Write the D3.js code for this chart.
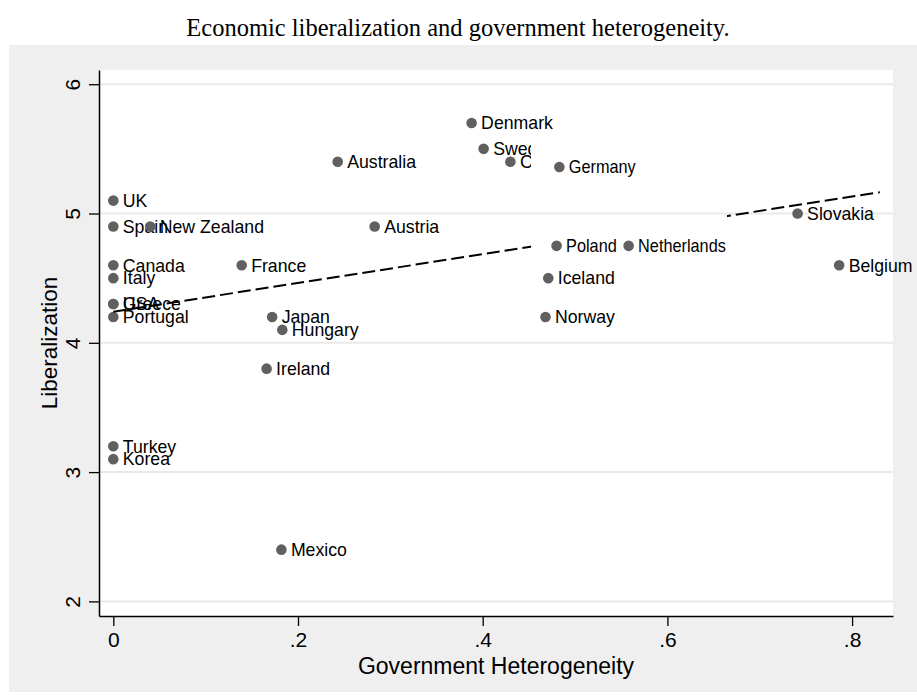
<!DOCTYPE html>
<html>
<head>
<meta charset="utf-8">
<script src="https://cdn.jsdelivr.net/npm/d3@7"></script>
<style>
  html, body { margin: 0; padding: 0; background: #ffffff; }
  svg { display: block; }
</style>
</head>
<body>
<svg id="chart" width="917" height="700"></svg>
<script>
// ---- data ----
const countries = ["Denmark","Sweden","Czech Republic","Germany","Australia","UK","Spain","New Zealand","Austria","Slovakia","Poland","Netherlands","Canada","France","Belgium","Italy","Iceland","USA","Greece","Portugal","Japan","Hungary","Norway","Ireland","Turkey","Korea","Mexico"];
const heterogeneity = [0.388,0.401,0.430,0.483,0.243,0,0,0.040,0.283,0.741,0.480,0.558,0,0.139,0.786,0,0.471,0,0,0,0.172,0.183,0.468,0.166,0,0,0.182];
const liberalization = [5.7,5.5,5.4,5.36,5.4,5.1,4.9,4.9,4.9,5.0,4.75,4.75,4.6,4.6,4.6,4.5,4.5,4.3,4.3,4.2,4.2,4.1,4.2,3.8,3.2,3.1,2.4];
const patchedLabels = ["Germany","Poland","Netherlands"];
const xTicks = [0, 0.2, 0.4, 0.6, 0.8];
const xTickLabels = ["0", ".2", ".4", ".6", ".8"];
const yTicks = [2, 3, 4, 5, 6];
const yTickLabels = ["2", "3", "4", "5", "6"];
// fitted line: liberalization = intercept + slope * heterogeneity
const fitX = [0, 0.83];
const fitY = [4.24, 5.165];
const titleText = "Economic liberalization and government heterogeneity.";
const xTitle = "Government Heterogeneity";
const yTitle = "Liberalization";

const points = countries.map((c, i) => ({ name: c, x: heterogeneity[i], y: liberalization[i] }));
const fitPts = fitX.map((v, i) => ({ x: v, y: fitY[i] }));

// ---- layout ----
const svg = d3.select("#chart");
const plot = { left: 99, right: 893, top: 70, bottom: 616 };
const x = d3.scaleLinear().domain([-0.0155, 0.8443]).range([plot.left, plot.right]);
const y = d3.scaleLinear().domain([1.887, 6.11]).range([plot.bottom, plot.top]);

// title
svg.append("text").attr("x", 458).attr("y", 36).attr("text-anchor", "middle")
  .style("font-family", "'Liberation Serif','Times New Roman',serif").style("font-size", "24.5px")
  .attr("fill", "#000").text(titleText);

// graph region
svg.append("rect").attr("x", 9).attr("y", 45).attr("width", 908).attr("height", 647).attr("fill", "#efefef");
svg.append("rect").attr("x", plot.left).attr("y", plot.top).attr("width", plot.right - plot.left)
  .attr("height", plot.bottom - plot.top).attr("fill", "#ffffff");

// gridlines
const grid = svg.append("g");
grid.selectAll("line").data(yTicks).join("line")
  .attr("x1", plot.left).attr("x2", plot.right)
  .attr("y1", d => y(d)).attr("y2", d => y(d))
  .attr("stroke", "#e9e9e9").attr("stroke-width", 2);

const labelFont = "'Liberation Sans',Arial,sans-serif";

function drawPoint(g, d, narrow) {
  g.append("circle").attr("cx", x(d.x)).attr("cy", y(d.y)).attr("r", 5.3).attr("fill", "#606060");
  g.append("text")
    .attr("transform", `translate(${x(d.x) + 9.5},${y(d.y) + 6.3})` + (narrow ? " scale(0.92,1.04)" : ""))
    .style("font-family", labelFont).style("font-size", "17.7px").attr("fill", "#000").text(d.name);
}

// scatter
const sc = svg.append("g");
points.filter(d => !patchedLabels.includes(d.name)).forEach(d => drawPoint(sc, d, false));

// fit line
svg.append("path").datum(fitPts)
  .attr("d", d3.line().x(d => x(d.x)).y(d => y(d.y)))
  .attr("fill", "none").attr("stroke", "#000").attr("stroke-width", 2)
  .attr("stroke-dasharray", "13,5");

// axes
const xAxis = d3.axisBottom(x).tickValues(xTicks).tickFormat((d, i) => xTickLabels[i]).tickSize(10).tickSizeOuter(0);
const gx = svg.append("g").attr("transform", `translate(0,${plot.bottom})`).call(xAxis);
gx.select(".domain").attr("stroke", "#000").attr("stroke-width", 1.5);
gx.selectAll(".tick line").attr("stroke", "#000").attr("stroke-width", 1.3);
gx.selectAll(".tick text").attr("y", 16).attr("dy", "0.71em")
  .style("font-family", labelFont).style("font-size", "21px").attr("fill", "#000");

const yAxis = d3.axisLeft(y).tickValues(yTicks).tickFormat((d, i) => yTickLabels[i]).tickSize(10).tickSizeOuter(0);
const gy = svg.append("g").attr("transform", `translate(${plot.left},0)`).call(yAxis);
gy.select(".domain").attr("stroke", "#000").attr("stroke-width", 1.5);
gy.selectAll(".tick line").attr("stroke", "#000").attr("stroke-width", 1.3);
gy.selectAll(".tick text")
  .attr("x", null).attr("dy", null)
  .attr("text-anchor", "middle")
  .attr("transform", "translate(-19,0) rotate(-90)")
  .style("font-family", labelFont).style("font-size", "21px").attr("fill", "#000");

// axis titles
svg.append("text").attr("x", (plot.left + plot.right) / 2).attr("y", 674).attr("text-anchor", "middle")
  .style("font-family", labelFont).style("font-size", "23px").attr("fill", "#000").text(xTitle);
svg.append("text").attr("transform", `translate(57,${(plot.top + plot.bottom) / 2}) rotate(-90)`)
  .attr("text-anchor", "middle")
  .style("font-family", labelFont).style("font-size", "22.5px").attr("fill", "#000").text(yTitle);

// pasted-over region (as in the reference image)
svg.append("rect").attr("x", 531).attr("y", 134).attr("width", 196).attr("height", 128).attr("fill", "#ffffff");
svg.append("line").attr("x1", 531).attr("x2", 727).attr("y1", y(5)).attr("y2", y(5))
  .attr("stroke", "#e9e9e9").attr("stroke-width", 2);
const pg = svg.append("g");
points.filter(d => patchedLabels.includes(d.name)).forEach(d => drawPoint(pg, d, true));
</script>
</body>
</html>
